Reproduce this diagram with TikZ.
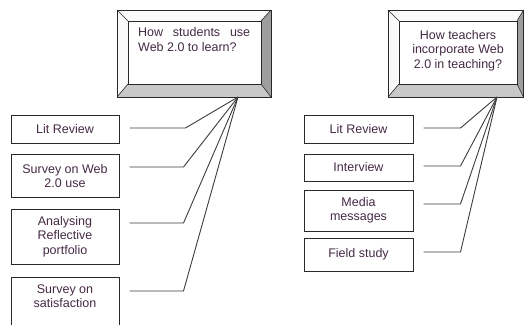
\documentclass[tikz,border=0pt]{standalone}
\usepackage{fontspec}
\setmainfont{Liberation Sans}
\usetikzlibrary{calc, positioning}
\usepackage{xcolor}
\definecolor{txtcol}{RGB}{68,42,68}
\definecolor{boxline}{RGB}{40,40,40}
\definecolor{linkcol}{RGB}{60,60,60}
\definecolor{bevlight}{RGB}{250,250,250}
\definecolor{bevmid}{RGB}{200,200,200}
\definecolor{bevdark}{RGB}{158,158,158}

\begin{document}
\begin{tikzpicture}[x=1pt, y=-1pt,
	method/.style={draw=boxline, line width=1pt, minimum width=108, inner sep=0pt, align=center, text=txtcol, font=\fontsize{12.5}{14.5}\selectfont},
	question/.style={text=txtcol, inner sep=0pt, font=\fontsize{12.5}{14.5}\selectfont},
	link/.style={draw=linkcol, line width=0.9pt},
	frame/.style={draw=boxline, line width=1pt}]
			\clip (0,0) rectangle (524,324);
			
			% left question box
			\coordinate (oAnw) at (117,10);
			\coordinate (oAse) at (271,97);
			\coordinate (iAnw) at (128,21);
			\coordinate (iAse) at (261,84);
			\fill[bevlight] (oAnw) -- (oAnw -| oAse) -- (iAnw -| iAse) -- (iAnw) -- cycle;
			\fill[bevlight] (oAnw) -- (iAnw) -- (iAnw |- iAse) -- (oAnw |- oAse) -- cycle;
			\fill[bevdark] (oAnw -| oAse) -- (oAse) -- (iAse) -- (iAnw -| iAse) -- cycle;
			\fill[bevmid] (oAnw |- oAse) -- (oAse) -- (iAse) -- (iAnw |- iAse) -- cycle;
			\draw[frame] (oAnw) rectangle (oAse);
			\draw[frame] (iAnw) rectangle (iAse);
			\draw[boxline, line width=0.6pt] (oAnw) -- (iAnw) (oAnw -| oAse) -- (iAnw -| iAse)
				(oAse) -- (iAse) (oAnw |- oAse) -- (iAnw |- iAse);
			\node[question, anchor=north west, text width=112, align=justify] (qA) at (138,27.5)
				{How students use Web 2.0 to learn?};
			
			% right question box
			\coordinate (oBnw) at (388,10);
			\coordinate (oBse) at (523.5,97);
			\coordinate (iBnw) at (399,21);
			\coordinate (iBse) at (517,84);
			\fill[bevlight] (oBnw) -- (oBnw -| oBse) -- (iBnw -| iBse) -- (iBnw) -- cycle;
			\fill[bevlight] (oBnw) -- (iBnw) -- (iBnw |- iBse) -- (oBnw |- oBse) -- cycle;
			\fill[bevdark] (oBnw -| oBse) -- (oBse) -- (iBse) -- (iBnw -| iBse) -- cycle;
			\fill[bevmid] (oBnw |- oBse) -- (oBse) -- (iBse) -- (iBnw |- iBse) -- cycle;
			\draw[frame] (oBnw) rectangle (oBse);
			\draw[frame] (iBnw) rectangle (iBse);
			\draw[boxline, line width=0.6pt] (oBnw) -- (iBnw) (oBnw -| oBse) -- (iBnw -| iBse)
				(oBse) -- (iBse) (oBnw |- oBse) -- (iBnw |- iBse);
			\node[question, align=center] (qB) at (458,50.5)
				{How teachers\\incorporate Web\\2.0 in teaching?};
			
			\coordinate (hubA) at (238,97);
			\coordinate (hubB) at (497,97);
			
			% methods, students
			\node[method, minimum height=28] (lrA) at (65,129) {Lit Review};
			\node[method, minimum height=43] (swA) at (65,176) {Survey on Web\\2.0 use};
			\node[method, minimum height=55] (arA) at (65,236.5) {Analysing\\Reflective\\portfolio};
			\node[method, minimum height=60, anchor=north,
				label={[align=center, anchor=north, inner sep=0pt, yshift=-7.5pt, text=txtcol, font=\fontsize{12.5}{14.5}\selectfont]north:{Survey on\\satisfaction}}]
				(ssA) at (65,277) {};
			
			% methods, teachers
			\node[method, minimum width=109, minimum height=28] (lrB) at (358.5,129) {Lit Review};
			\node[method, minimum width=109, minimum height=27] (ivB) at (358.5,167.5) {Interview};
			\node[method, minimum width=109, minimum height=41] (mmB) at (358.5,210.5) {Media\\messages};
			\node[method, minimum width=109, minimum height=33] (fsB) at (358.5,254.5) {Field study};
			
			\draw[link] (lrA.east) ++(10,-1) -- ++(56,0) -- (hubA);
			\draw[link] (swA.east) ++(10,-9) -- ++(54,0) -- (hubA);
			\draw[link] (arA.east) ++(10,-13.5) -- ++(54,0) -- (hubA);
			\draw[link] (ssA.north east) ++(10,14) -- ++(54,0) -- (hubA);
			
			\draw[link] (lrB.east) ++(10,-1) -- ++(37,0) -- (hubB);
			\draw[link] (ivB.east) ++(10,-1.5) -- ++(37,0) -- (hubB);
			\draw[link] (mmB.east) ++(10,-6.5) -- ++(37,0) -- (hubB);
			\draw[link] (fsB.east) ++(10,-2.5) -- ++(37,0) -- (hubB);
			\end{tikzpicture}
\end{document}
